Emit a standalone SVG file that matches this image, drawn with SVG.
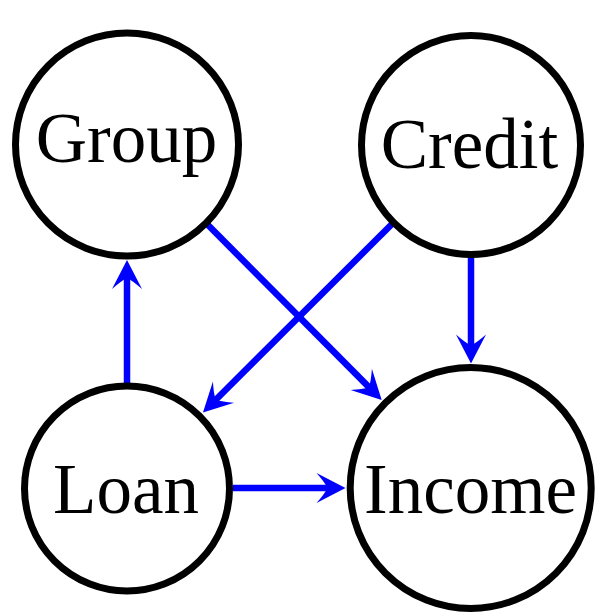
<svg xmlns="http://www.w3.org/2000/svg" width="608" height="614" viewBox="0 0 608 614">
  <style>
    .node circle { fill: #ffffff; stroke: #000000; stroke-width: 7; }
    .node text { font-family: "Liberation Serif", "DejaVu Serif", serif; font-size: 71px; fill: #000000; text-anchor: middle; }
    .edge { stroke: #0000ff; stroke-width: 6.5; fill: none; marker-end: url(#head); }
  </style>
  <defs>
    <!-- stealth-style arrowhead; line ends at the notch, tip lies 16 units ahead -->
    <marker id="head" markerUnits="userSpaceOnUse" orient="auto" refX="0" refY="0" markerWidth="40" markerHeight="40" viewBox="-20 -20 40 40" overflow="visible">
      <path d="M16,0 L-13,-15 Q-5,-6 -2,0 Q-5,6 -13,15 Z" fill="#0000ff"/>
    </marker>
  </defs>

  <g id="connectors">
    <line class="edge" x1="127" y1="383" x2="127" y2="276"/>
    <line class="edge" x1="233" y1="488" x2="329.5" y2="488"/>
    <line class="edge" x1="471" y1="257" x2="471" y2="347.5"/>
    <line class="edge" x1="208" y1="225" x2="370.4" y2="388.6"/>
    <line class="edge" x1="392" y1="224" x2="214.3" y2="401.2"/>
  </g>

  <g id="group" class="node">
    <circle cx="127" cy="144.5" r="111.5"/>
    <text x="126.5" y="162">Group</text>
  </g>
  <g id="credit" class="node">
    <circle cx="471" cy="145" r="109.5"/>
    <text x="469.5" y="168">Credit</text>
  </g>
  <g id="loan" class="node">
    <circle cx="127" cy="488.5" r="102.5"/>
    <text x="126" y="513">Loan</text>
  </g>
  <g id="income" class="node">
    <circle cx="470.7" cy="488" r="120.5"/>
    <text x="470.5" y="513">Income</text>
  </g>
</svg>
